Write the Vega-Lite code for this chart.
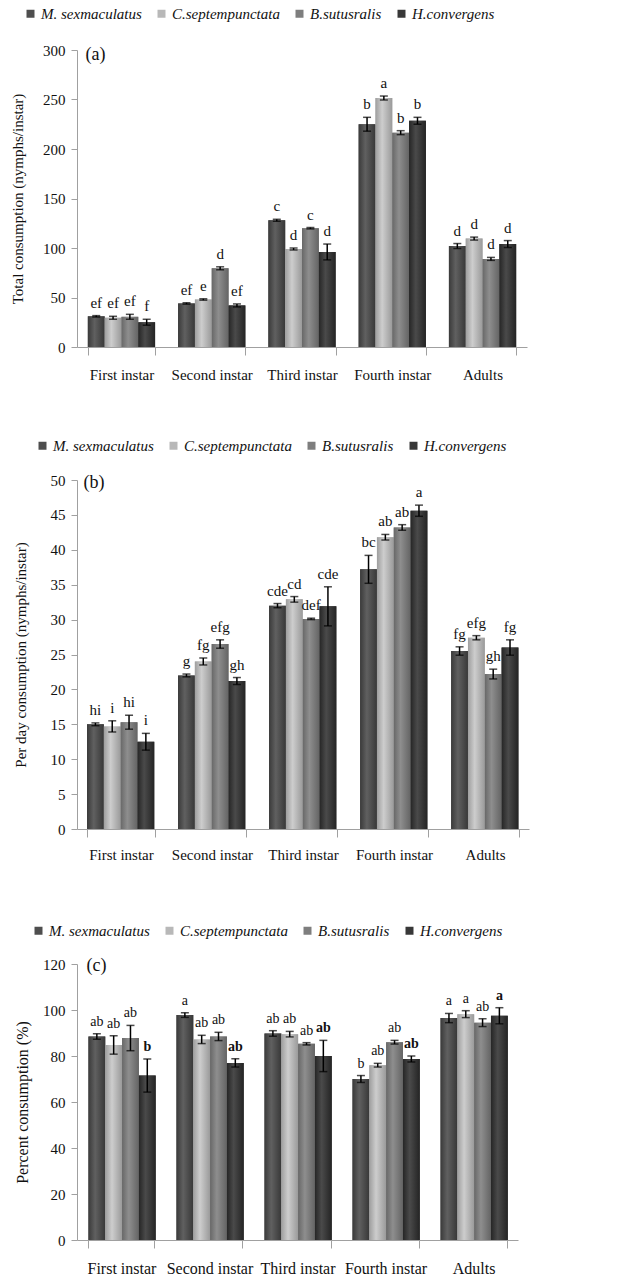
{
"$schema": "https://vega.github.io/schema/vega-lite/v6.json",
"background": "white",
"padding": {"top": 6, "left": 10, "right": 5, "bottom": 5},
"spacing": 56,
"columns": 1,
"align": {"row": "none", "column": "all"},
"config": {
  "view": {"stroke": null},
  "axis": {"labelFont": "Liberation Serif", "titleFont": "Liberation Serif", "labelFontSize": 15, "titleFontSize": 15, "titleFontWeight": "normal", "labelColor": "#111", "titleColor": "#111", "domainColor": "#a0a0a0", "tickColor": "#a0a0a0", "grid": false},
  "legend": {"labelFont": "Liberation Serif", "labelFontStyle": "italic", "labelFontSize": 15, "labelColor": "#111", "symbolType": "square", "symbolSize": 64, "symbolStrokeWidth": 0, "columnPadding": 12, "labelOffset": 3}
},
"resolve": {"scale": {"color": "independent"}, "legend": {"color": "independent"}},
"datasets": {
  "a": [
    {"stage": "First instar", "species": "M. sexmaculatus", "mean": 31, "lo": 30.3, "hi": 31.7, "letter": "ef"},
    {"stage": "First instar", "species": "C.septempunctata", "mean": 29.5, "lo": 28, "hi": 31, "letter": "ef"},
    {"stage": "First instar", "species": "B.sutusralis", "mean": 30.5, "lo": 28, "hi": 33, "letter": "ef"},
    {"stage": "First instar", "species": "H.convergens", "mean": 25, "lo": 22, "hi": 28, "letter": "f"},
    {"stage": "Second instar", "species": "M. sexmaculatus", "mean": 44, "lo": 43.3, "hi": 44.7, "letter": "ef"},
    {"stage": "Second instar", "species": "C.septempunctata", "mean": 48, "lo": 47.3, "hi": 48.7, "letter": "e"},
    {"stage": "Second instar", "species": "B.sutusralis", "mean": 79.5, "lo": 78, "hi": 81, "letter": "d"},
    {"stage": "Second instar", "species": "H.convergens", "mean": 42, "lo": 40.5, "hi": 43.5, "letter": "ef"},
    {"stage": "Third instar", "species": "M. sexmaculatus", "mean": 128, "lo": 127, "hi": 129, "letter": "c"},
    {"stage": "Third instar", "species": "C.septempunctata", "mean": 99, "lo": 98, "hi": 100, "letter": "d"},
    {"stage": "Third instar", "species": "B.sutusralis", "mean": 120, "lo": 119.3, "hi": 120.7, "letter": "c"},
    {"stage": "Third instar", "species": "H.convergens", "mean": 96, "lo": 88, "hi": 104, "letter": "d"},
    {"stage": "Fourth instar", "species": "M. sexmaculatus", "mean": 225, "lo": 218, "hi": 232, "letter": "b"},
    {"stage": "Fourth instar", "species": "C.septempunctata", "mean": 251.5, "lo": 249.5, "hi": 253.5, "letter": "a"},
    {"stage": "Fourth instar", "species": "B.sutusralis", "mean": 216.5, "lo": 214.5, "hi": 218.5, "letter": "b"},
    {"stage": "Fourth instar", "species": "H.convergens", "mean": 228.5, "lo": 225, "hi": 232, "letter": "b"},
    {"stage": "Adults", "species": "M. sexmaculatus", "mean": 102, "lo": 99.5, "hi": 104.5, "letter": "d"},
    {"stage": "Adults", "species": "C.septempunctata", "mean": 109.5, "lo": 108, "hi": 111, "letter": "d"},
    {"stage": "Adults", "species": "B.sutusralis", "mean": 89, "lo": 87.5, "hi": 90.5, "letter": "d"},
    {"stage": "Adults", "species": "H.convergens", "mean": 104, "lo": 100.5, "hi": 107.5, "letter": "d"}
  ],
  "b": [
    {"stage": "First instar", "species": "M. sexmaculatus", "mean": 15.0, "lo": 14.8, "hi": 15.2, "letter": "hi"},
    {"stage": "First instar", "species": "C.septempunctata", "mean": 14.7, "lo": 13.9, "hi": 15.5, "letter": "i"},
    {"stage": "First instar", "species": "B.sutusralis", "mean": 15.3, "lo": 14.3, "hi": 16.3, "letter": "hi"},
    {"stage": "First instar", "species": "H.convergens", "mean": 12.5, "lo": 11.3, "hi": 13.7, "letter": "i"},
    {"stage": "Second instar", "species": "M. sexmaculatus", "mean": 22.0, "lo": 21.8, "hi": 22.2, "letter": "g"},
    {"stage": "Second instar", "species": "C.septempunctata", "mean": 24.0, "lo": 23.5, "hi": 24.5, "letter": "fg"},
    {"stage": "Second instar", "species": "B.sutusralis", "mean": 26.5, "lo": 25.9, "hi": 27.1, "letter": "efg"},
    {"stage": "Second instar", "species": "H.convergens", "mean": 21.2, "lo": 20.7, "hi": 21.7, "letter": "gh"},
    {"stage": "Third instar", "species": "M. sexmaculatus", "mean": 32.0, "lo": 31.7, "hi": 32.3, "letter": "cde"},
    {"stage": "Third instar", "species": "C.septempunctata", "mean": 32.9, "lo": 32.5, "hi": 33.3, "letter": "cd"},
    {"stage": "Third instar", "species": "B.sutusralis", "mean": 30.1, "lo": 30.0, "hi": 30.2, "letter": "def"},
    {"stage": "Third instar", "species": "H.convergens", "mean": 31.9, "lo": 29.1, "hi": 34.7, "letter": "cde"},
    {"stage": "Fourth instar", "species": "M. sexmaculatus", "mean": 37.2, "lo": 35.2, "hi": 39.2, "letter": "bc"},
    {"stage": "Fourth instar", "species": "C.septempunctata", "mean": 41.8, "lo": 41.4, "hi": 42.2, "letter": "ab"},
    {"stage": "Fourth instar", "species": "B.sutusralis", "mean": 43.2, "lo": 42.8, "hi": 43.6, "letter": "ab"},
    {"stage": "Fourth instar", "species": "H.convergens", "mean": 45.6, "lo": 44.8, "hi": 46.4, "letter": "a"},
    {"stage": "Adults", "species": "M. sexmaculatus", "mean": 25.5, "lo": 24.9, "hi": 26.1, "letter": "fg"},
    {"stage": "Adults", "species": "C.septempunctata", "mean": 27.4, "lo": 27.1, "hi": 27.7, "letter": "efg"},
    {"stage": "Adults", "species": "B.sutusralis", "mean": 22.2, "lo": 21.5, "hi": 22.9, "letter": "gh"},
    {"stage": "Adults", "species": "H.convergens", "mean": 26.0, "lo": 24.9, "hi": 27.1, "letter": "fg"}
  ],
  "c": [
    {"stage": "First instar", "species": "M. sexmaculatus", "mean": 88.5, "lo": 87.3, "hi": 89.7, "letter": "ab"},
    {"stage": "First instar", "species": "C.septempunctata", "mean": 84.8, "lo": 80.8, "hi": 88.8, "letter": "ab"},
    {"stage": "First instar", "species": "B.sutusralis", "mean": 87.8, "lo": 82.3, "hi": 93.3, "letter": "ab"},
    {"stage": "First instar", "species": "H.convergens", "mean": 71.5, "lo": 64.3, "hi": 78.7, "letter": "b"},
    {"stage": "Second instar", "species": "M. sexmaculatus", "mean": 97.8, "lo": 96.8, "hi": 98.8, "letter": "a"},
    {"stage": "Second instar", "species": "C.septempunctata", "mean": 87.2, "lo": 85.4, "hi": 89.0, "letter": "ab"},
    {"stage": "Second instar", "species": "B.sutusralis", "mean": 88.5, "lo": 86.7, "hi": 90.3, "letter": "ab"},
    {"stage": "Second instar", "species": "H.convergens", "mean": 77.0, "lo": 75.2, "hi": 78.8, "letter": "ab"},
    {"stage": "Third instar", "species": "M. sexmaculatus", "mean": 89.8, "lo": 88.6, "hi": 91.0, "letter": "ab"},
    {"stage": "Third instar", "species": "C.septempunctata", "mean": 89.5, "lo": 88.3, "hi": 90.7, "letter": "ab"},
    {"stage": "Third instar", "species": "B.sutusralis", "mean": 85.3, "lo": 84.8, "hi": 85.8, "letter": "ab"},
    {"stage": "Third instar", "species": "H.convergens", "mean": 80.0, "lo": 73.2, "hi": 86.8, "letter": "ab"},
    {"stage": "Fourth instar", "species": "M. sexmaculatus", "mean": 70.0, "lo": 68.5, "hi": 71.5, "letter": "b"},
    {"stage": "Fourth instar", "species": "C.septempunctata", "mean": 76.0, "lo": 75.2, "hi": 76.8, "letter": "ab"},
    {"stage": "Fourth instar", "species": "B.sutusralis", "mean": 86.0, "lo": 85.2, "hi": 86.8, "letter": "ab"},
    {"stage": "Fourth instar", "species": "H.convergens", "mean": 78.7, "lo": 77.4, "hi": 80.0, "letter": "ab"},
    {"stage": "Adults", "species": "M. sexmaculatus", "mean": 96.5, "lo": 94.5, "hi": 98.5, "letter": "a"},
    {"stage": "Adults", "species": "C.septempunctata", "mean": 98.2, "lo": 96.7, "hi": 99.7, "letter": "a"},
    {"stage": "Adults", "species": "B.sutusralis", "mean": 94.5, "lo": 92.8, "hi": 96.2, "letter": "ab"},
    {"stage": "Adults", "species": "H.convergens", "mean": 97.5, "lo": 94.0, "hi": 101.0, "letter": "a"}
  ]
},
"concat": [
{
  "width": 450, "height": 297,
  "layer": [
  {
  "data": {"name": "a"},
  "encoding": {
    "x": {"field": "stage", "type": "nominal", "sort": null, "title": null, "scale": {"domain": ["First instar", "Second instar", "Third instar", "Fourth instar", "Adults"], "paddingInner": 0.255, "paddingOuter": 0.12}, "axis": {"labelAngle": 0, "tickBand": "extent", "tickSize": 8, "labelPadding": 12}},
    "xOffset": {"field": "species", "type": "nominal", "sort": ["M. sexmaculatus", "C.septempunctata", "B.sutusralis", "H.convergens"], "scale": {"paddingInner": 0, "paddingOuter": 0}},
    "y": {"field": "mean", "type": "quantitative", "title": "Total consumption (nymphs/instar)", "scale": {"domain": [0, 300], "nice": false}, "axis": {"values": [0, 50, 100, 150, 200, 250, 300], "tickSize": 6, "labelPadding": 6, "titlePadding": 17}}
  },
  "layer": [
    {"mark": {"type": "bar"}, "encoding": {"color": {"field": "species", "type": "nominal", "sort": ["M. sexmaculatus", "C.septempunctata", "B.sutusralis", "H.convergens"], "scale": {"domain": ["M. sexmaculatus", "C.septempunctata", "B.sutusralis", "H.convergens"], "range": ["#4e4e4e", "#b8b8b8", "#7e7e7e", "#383838"]}, "legend": {"title": null, "orient": "none", "direction": "horizontal", "legendX": -54, "legendY": -44}}}},
    {"transform": [{"filter": "datum.species === 'M. sexmaculatus'"}], "mark": {"type": "bar", "fill": {"gradient": "linear", "x1": 0, "x2": 1, "y1": 0, "y2": 0, "stops": [{"offset": 0, "color": "#3a3a3a"}, {"offset": 0.4, "color": "#606060"}, {"offset": 1, "color": "#383838"}]}}},
    {"transform": [{"filter": "datum.species === 'C.septempunctata'"}], "mark": {"type": "bar", "fill": {"gradient": "linear", "x1": 0, "x2": 1, "y1": 0, "y2": 0, "stops": [{"offset": 0, "color": "#9e9e9e"}, {"offset": 0.4, "color": "#cdcdcd"}, {"offset": 1, "color": "#9a9a9a"}]}}},
    {"transform": [{"filter": "datum.species === 'B.sutusralis'"}], "mark": {"type": "bar", "fill": {"gradient": "linear", "x1": 0, "x2": 1, "y1": 0, "y2": 0, "stops": [{"offset": 0, "color": "#686868"}, {"offset": 0.4, "color": "#8e8e8e"}, {"offset": 1, "color": "#646464"}]}}},
    {"transform": [{"filter": "datum.species === 'H.convergens'"}], "mark": {"type": "bar", "fill": {"gradient": "linear", "x1": 0, "x2": 1, "y1": 0, "y2": 0, "stops": [{"offset": 0, "color": "#262626"}, {"offset": 0.4, "color": "#4a4a4a"}, {"offset": 1, "color": "#242424"}]}}},
    {"mark": {"type": "rule", "color": "black", "strokeWidth": 1.5}, "encoding": {"y": {"field": "lo", "type": "quantitative", "title": "Total consumption (nymphs/instar)", "scale": {"domain": [0, 300], "nice": false}}, "y2": {"field": "hi"}}},
    {"mark": {"type": "tick", "color": "black", "thickness": 1.5, "size": 8}, "encoding": {"y": {"field": "lo", "type": "quantitative", "title": "Total consumption (nymphs/instar)", "scale": {"domain": [0, 300], "nice": false}}}},
    {"mark": {"type": "tick", "color": "black", "thickness": 1.5, "size": 8}, "encoding": {"y": {"field": "hi", "type": "quantitative", "title": "Total consumption (nymphs/instar)", "scale": {"domain": [0, 300], "nice": false}}}},
    {"mark": {"type": "text", "font": "Liberation Serif", "fontSize": 15, "baseline": "alphabetic", "dy": -8, "color": "#111"}, "encoding": {"y": {"field": "hi", "type": "quantitative", "title": "Total consumption (nymphs/instar)", "scale": {"domain": [0, 300], "nice": false}}, "text": {"field": "letter"}}}
  ]
  },
  {"data": {"values": [{"label": "(a)"}]}, "mark": {"type": "text", "font": "Liberation Serif", "fontSize": 18, "baseline": "middle", "dx": -26, "dy": 5, "color": "#111"}, "encoding": {"x": {"datum": "First instar", "type": "nominal", "title": null, "scale": {"domain": ["First instar", "Second instar", "Third instar", "Fourth instar", "Adults"], "paddingInner": 0.255, "paddingOuter": 0.12}, "axis": {"labelAngle": 0, "tickBand": "extent", "tickSize": 8, "labelPadding": 12}}, "y": {"datum": 300, "type": "quantitative", "title": "Total consumption (nymphs/instar)", "scale": {"domain": [0, 300], "nice": false}, "axis": {"values": [0, 50, 100, 150, 200, 250, 300], "tickSize": 6, "labelPadding": 6, "titlePadding": 17}}, "text": {"field": "label"}}}
  ]
},
{
  "width": 452, "height": 349,
  "layer": [
  {
  "data": {"name": "b"},
  "encoding": {
    "x": {"field": "stage", "type": "nominal", "sort": null, "title": null, "scale": {"domain": ["First instar", "Second instar", "Third instar", "Fourth instar", "Adults"], "paddingInner": 0.255, "paddingOuter": 0.11}, "axis": {"labelAngle": 0, "tickBand": "extent", "tickSize": 8, "labelPadding": 10, "minExtent": 38}},
    "xOffset": {"field": "species", "type": "nominal", "sort": ["M. sexmaculatus", "C.septempunctata", "B.sutusralis", "H.convergens"], "scale": {"paddingInner": 0, "paddingOuter": 0}},
    "y": {"field": "mean", "type": "quantitative", "title": "Per day consumption (nymphs/instar)", "scale": {"domain": [0, 50], "nice": false}, "axis": {"values": [0, 5, 10, 15, 20, 25, 30, 35, 40, 45, 50], "tickSize": 6, "labelPadding": 6, "titlePadding": 22}}
  },
  "layer": [
    {"mark": {"type": "bar"}, "encoding": {"color": {"field": "species", "type": "nominal", "sort": ["M. sexmaculatus", "C.septempunctata", "B.sutusralis", "H.convergens"], "scale": {"domain": ["M. sexmaculatus", "C.septempunctata", "B.sutusralis", "H.convergens"], "range": ["#4e4e4e", "#b8b8b8", "#7e7e7e", "#383838"]}, "legend": {"title": null, "orient": "none", "direction": "horizontal", "legendX": -42, "legendY": -42}}}},
    {"transform": [{"filter": "datum.species === 'M. sexmaculatus'"}], "mark": {"type": "bar", "fill": {"gradient": "linear", "x1": 0, "x2": 1, "y1": 0, "y2": 0, "stops": [{"offset": 0, "color": "#3a3a3a"}, {"offset": 0.4, "color": "#606060"}, {"offset": 1, "color": "#383838"}]}}},
    {"transform": [{"filter": "datum.species === 'C.septempunctata'"}], "mark": {"type": "bar", "fill": {"gradient": "linear", "x1": 0, "x2": 1, "y1": 0, "y2": 0, "stops": [{"offset": 0, "color": "#9e9e9e"}, {"offset": 0.4, "color": "#cdcdcd"}, {"offset": 1, "color": "#9a9a9a"}]}}},
    {"transform": [{"filter": "datum.species === 'B.sutusralis'"}], "mark": {"type": "bar", "fill": {"gradient": "linear", "x1": 0, "x2": 1, "y1": 0, "y2": 0, "stops": [{"offset": 0, "color": "#686868"}, {"offset": 0.4, "color": "#8e8e8e"}, {"offset": 1, "color": "#646464"}]}}},
    {"transform": [{"filter": "datum.species === 'H.convergens'"}], "mark": {"type": "bar", "fill": {"gradient": "linear", "x1": 0, "x2": 1, "y1": 0, "y2": 0, "stops": [{"offset": 0, "color": "#262626"}, {"offset": 0.4, "color": "#4a4a4a"}, {"offset": 1, "color": "#242424"}]}}},
    {"mark": {"type": "rule", "color": "black", "strokeWidth": 1.5}, "encoding": {"y": {"field": "lo", "type": "quantitative", "title": "Per day consumption (nymphs/instar)", "scale": {"domain": [0, 50], "nice": false}}, "y2": {"field": "hi"}}},
    {"mark": {"type": "tick", "color": "black", "thickness": 1.5, "size": 8}, "encoding": {"y": {"field": "lo", "type": "quantitative", "title": "Per day consumption (nymphs/instar)", "scale": {"domain": [0, 50], "nice": false}}}},
    {"mark": {"type": "tick", "color": "black", "thickness": 1.5, "size": 8}, "encoding": {"y": {"field": "hi", "type": "quantitative", "title": "Per day consumption (nymphs/instar)", "scale": {"domain": [0, 50], "nice": false}}}},
    {"mark": {"type": "text", "font": "Liberation Serif", "fontSize": 15, "baseline": "alphabetic", "dy": -8, "color": "#111"}, "encoding": {"y": {"field": "hi", "type": "quantitative", "title": "Per day consumption (nymphs/instar)", "scale": {"domain": [0, 50], "nice": false}}, "text": {"field": "letter"}}}
  ]
  },
  {"data": {"values": [{"label": "(b)"}]}, "mark": {"type": "text", "font": "Liberation Serif", "fontSize": 18, "baseline": "middle", "dx": -27, "dy": 3, "color": "#111"}, "encoding": {"x": {"datum": "First instar", "type": "nominal", "title": null, "scale": {"domain": ["First instar", "Second instar", "Third instar", "Fourth instar", "Adults"], "paddingInner": 0.255, "paddingOuter": 0.11}, "axis": {"labelAngle": 0, "tickBand": "extent", "tickSize": 8, "labelPadding": 10, "minExtent": 38}}, "y": {"datum": 50, "type": "quantitative", "title": "Per day consumption (nymphs/instar)", "scale": {"domain": [0, 50], "nice": false}, "axis": {"values": [0, 5, 10, 15, 20, 25, 30, 35, 40, 45, 50], "tickSize": 6, "labelPadding": 6, "titlePadding": 22}}, "text": {"field": "label"}}}
  ]
},
{
  "width": 441, "height": 276,
  "layer": [
  {
  "data": {"name": "c"},
  "encoding": {
    "x": {"field": "stage", "type": "nominal", "sort": null, "title": null, "scale": {"domain": ["First instar", "Second instar", "Third instar", "Fourth instar", "Adults"], "paddingInner": 0.25, "paddingOuter": 0.13}, "axis": {"labelAngle": 0, "tickBand": "extent", "tickSize": 8, "labelPadding": 12, "labelFontSize": 16}},
    "xOffset": {"field": "species", "type": "nominal", "sort": ["M. sexmaculatus", "C.septempunctata", "B.sutusralis", "H.convergens"], "scale": {"paddingInner": 0, "paddingOuter": 0}},
    "y": {"field": "mean", "type": "quantitative", "title": "Percent consumption (%)", "scale": {"domain": [0, 120], "nice": false}, "axis": {"values": [0, 20, 40, 60, 80, 100, 120], "tickSize": 6, "labelPadding": 6, "titlePadding": 12, "titleFontSize": 16}}
  },
  "layer": [
    {"mark": {"type": "bar"}, "encoding": {"color": {"field": "species", "type": "nominal", "sort": ["M. sexmaculatus", "C.septempunctata", "B.sutusralis", "H.convergens"], "scale": {"domain": ["M. sexmaculatus", "C.septempunctata", "B.sutusralis", "H.convergens"], "range": ["#4e4e4e", "#b8b8b8", "#7e7e7e", "#383838"]}, "legend": {"title": null, "orient": "none", "direction": "horizontal", "legendX": -46, "legendY": -41}}}},
    {"transform": [{"filter": "datum.species === 'M. sexmaculatus'"}], "mark": {"type": "bar", "fill": {"gradient": "linear", "x1": 0, "x2": 1, "y1": 0, "y2": 0, "stops": [{"offset": 0, "color": "#3a3a3a"}, {"offset": 0.4, "color": "#606060"}, {"offset": 1, "color": "#383838"}]}}},
    {"transform": [{"filter": "datum.species === 'C.septempunctata'"}], "mark": {"type": "bar", "fill": {"gradient": "linear", "x1": 0, "x2": 1, "y1": 0, "y2": 0, "stops": [{"offset": 0, "color": "#9e9e9e"}, {"offset": 0.4, "color": "#cdcdcd"}, {"offset": 1, "color": "#9a9a9a"}]}}},
    {"transform": [{"filter": "datum.species === 'B.sutusralis'"}], "mark": {"type": "bar", "fill": {"gradient": "linear", "x1": 0, "x2": 1, "y1": 0, "y2": 0, "stops": [{"offset": 0, "color": "#686868"}, {"offset": 0.4, "color": "#8e8e8e"}, {"offset": 1, "color": "#646464"}]}}},
    {"transform": [{"filter": "datum.species === 'H.convergens'"}], "mark": {"type": "bar", "fill": {"gradient": "linear", "x1": 0, "x2": 1, "y1": 0, "y2": 0, "stops": [{"offset": 0, "color": "#262626"}, {"offset": 0.4, "color": "#4a4a4a"}, {"offset": 1, "color": "#242424"}]}}},
    {"mark": {"type": "rule", "color": "black", "strokeWidth": 1.5}, "encoding": {"y": {"field": "lo", "type": "quantitative", "title": "Percent consumption (%)", "scale": {"domain": [0, 120], "nice": false}}, "y2": {"field": "hi"}}},
    {"mark": {"type": "tick", "color": "black", "thickness": 1.5, "size": 8}, "encoding": {"y": {"field": "lo", "type": "quantitative", "title": "Percent consumption (%)", "scale": {"domain": [0, 120], "nice": false}}}},
    {"mark": {"type": "tick", "color": "black", "thickness": 1.5, "size": 8}, "encoding": {"y": {"field": "hi", "type": "quantitative", "title": "Percent consumption (%)", "scale": {"domain": [0, 120], "nice": false}}}},
    {"transform": [{"filter": "datum.species !== 'H.convergens'"}], "mark": {"type": "text", "font": "Liberation Serif", "fontSize": 14, "baseline": "alphabetic", "dy": -8, "color": "#111"}, "encoding": {"y": {"field": "hi", "type": "quantitative", "title": "Percent consumption (%)", "scale": {"domain": [0, 120], "nice": false}}, "text": {"field": "letter"}}},
    {"transform": [{"filter": "datum.species === 'H.convergens'"}], "mark": {"type": "text", "font": "Liberation Serif", "fontSize": 14, "fontWeight": "bold", "baseline": "alphabetic", "dy": -8, "color": "#111"}, "encoding": {"y": {"field": "hi", "type": "quantitative", "title": "Percent consumption (%)", "scale": {"domain": [0, 120], "nice": false}}, "text": {"field": "letter"}}}
  ]
  },
  {"data": {"values": [{"label": "(c)"}]}, "mark": {"type": "text", "font": "Liberation Serif", "fontSize": 18, "baseline": "middle", "dx": -25, "dy": 2, "color": "#111"}, "encoding": {"x": {"datum": "First instar", "type": "nominal", "title": null, "scale": {"domain": ["First instar", "Second instar", "Third instar", "Fourth instar", "Adults"], "paddingInner": 0.25, "paddingOuter": 0.13}, "axis": {"labelAngle": 0, "tickBand": "extent", "tickSize": 8, "labelPadding": 12, "labelFontSize": 16}}, "y": {"datum": 120, "type": "quantitative", "title": "Percent consumption (%)", "scale": {"domain": [0, 120], "nice": false}, "axis": {"values": [0, 20, 40, 60, 80, 100, 120], "tickSize": 6, "labelPadding": 6, "titlePadding": 12, "titleFontSize": 16}}, "text": {"field": "label"}}}
  ]
}
]
}
